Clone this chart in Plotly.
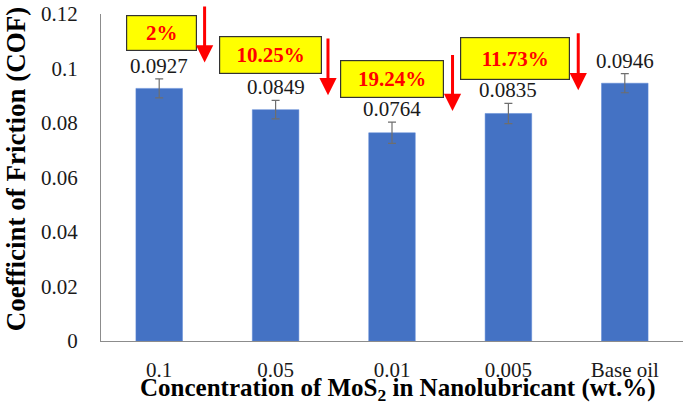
import plotly.graph_objects as go

# chart values
categories = ["0.1", "0.05", "0.01", "0.005", "Base oil"]
cof = [0.0927, 0.0849, 0.0764, 0.0835, 0.0946]
cof_err = [0.0035, 0.0034, 0.0039, 0.0037, 0.0035]
reductions = ["2%", "10.25%", "19.24%", "11.73%"]
y_ticks = [0, 0.02, 0.04, 0.06, 0.08, 0.1, 0.12]
y_tick_text = ["0", "0.02", "0.04", "0.06", "0.08", "0.1", "0.12"]

SERIF = "Liberation Serif, Times New Roman, serif"

fig = go.Figure()

fig.add_trace(
    go.Bar(
        x=list(range(len(categories))),
        y=cof,
        width=0.4,
        marker=dict(color="#4472C4", line=dict(color="#5B87D6", width=0.5)),
        error_y=dict(type="data", array=cof_err, visible=True,
                     color="#6E6E6E", thickness=1.2, width=4),
        showlegend=False,
    )
)

annotations = []

# value labels above the error bars
for i, (v, e) in enumerate(zip(cof, cof_err)):
    annotations.append(dict(
        x=i, y=v + e, xref="x", yref="y", text=f"{v:.4f}",
        showarrow=False, yanchor="bottom", yshift=-1,
        font=dict(family=SERIF, size=21, color="#1a1a1a"),
    ))

# yellow badges with reduction percentages (x in category units, y in COF units)
badge_pos = [(0.02, 0.1129, 69, 34), (0.96, 0.1049, 101, 36),
             (2.0, 0.0962, 102, 36), (3.06, 0.1038, 108, 41)]
for txt, (bx, by, bw, bh) in zip(reductions, badge_pos):
    annotations.append(dict(
        x=bx, y=by, xref="x", yref="y", text=f"<b>{txt}</b>",
        showarrow=False, width=bw, height=bh,
        bgcolor="#FFFF00", bordercolor="#333333", borderwidth=1.2, borderpad=0,
        font=dict(family=SERIF, size=21, color="#FF0000"),
    ))

# red down arrows: (x, head y, tail y)
arrow_pos = [(0.39, 0.1022, 0.1233), (1.45, 0.0902, 0.1116),
             (2.52, 0.0844, 0.1055), (3.60, 0.0920, 0.1135)]
for ax_x, head_y, tail_y in arrow_pos:
    annotations.append(dict(
        x=ax_x, y=head_y, ax=ax_x, ay=tail_y, xref="x", yref="y",
        axref="x", ayref="y", text="", showarrow=True,
        arrowhead=2, arrowsize=1.15, arrowwidth=3, arrowcolor="#FF0000",
    ))

# axis titles as annotations so they sit where the original puts them
annotations.append(dict(
    x=-0.146, y=0.525, xref="paper", yref="paper", textangle=-90,
    xanchor="center", yanchor="middle",
    text="<b>Coefficint of Friction (COF)</b>", showarrow=False,
    font=dict(family=SERIF, size=27, color="#000000"),
))
annotations.append(dict(
    x=0.51, y=-0.148, xref="paper", yref="paper",
    xanchor="center", yanchor="middle",
    text="<b>Concentration of MoS<sub>2</sub> in Nanolubricant (wt.%)</b>",
    showarrow=False, font=dict(family=SERIF, size=25, color="#000000"),
))

fig.update_layout(
    width=685,
    height=406,
    margin=dict(l=101, r=2, t=11, b=65),
    plot_bgcolor="white",
    paper_bgcolor="white",
    annotations=annotations,
    font=dict(family=SERIF, size=21, color="#1a1a1a"),
)

fig.update_xaxes(
    range=[-0.5, 4.5],
    tickvals=list(range(len(categories))),
    ticktext=categories,
    showline=True, linecolor="#8C8C8C", linewidth=1.3,
    showgrid=False, zeroline=False, ticks="",
    ticklabelstandoff=10,
    tickfont=dict(family=SERIF, size=21, color="#1a1a1a"),
)

fig.update_yaxes(
    range=[0, 0.12],
    tickvals=y_ticks,
    ticktext=y_tick_text,
    showline=True, linecolor="#8C8C8C", linewidth=1.3,
    showgrid=False, zeroline=False, ticks="",
    ticklabelstandoff=18,
    ticklabeloverflow="allow",
    tickfont=dict(family=SERIF, size=21, color="#1a1a1a"),
)

# the page body has a default 8px margin; drop it so the figure fills the window
fig.write_html("out.html", config={"displayModeBar": False},
               post_script="document.body.style.margin='0';")
